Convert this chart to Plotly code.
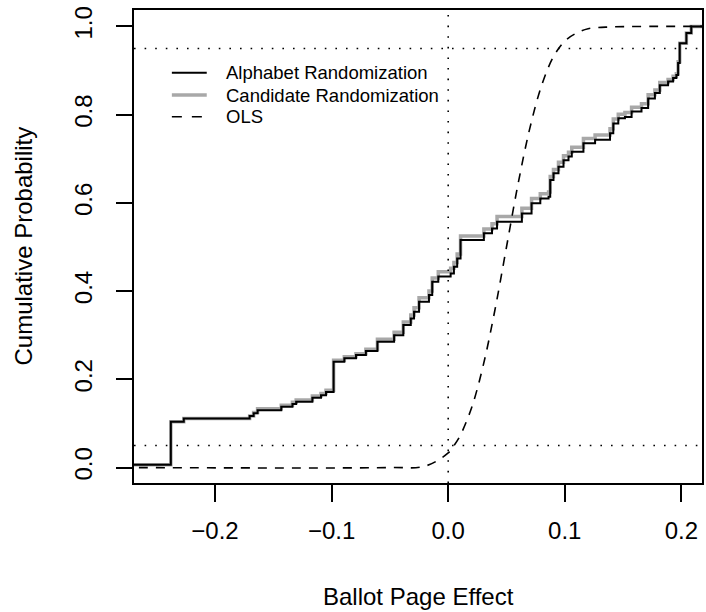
import plotly.graph_objects as go

# ---- data ----
alpha_x = [-0.28, -0.2379, -0.2268, -0.1703, -0.1669, -0.1635, -0.1432, -0.1336, -0.1304,
           -0.1165, -0.1091, -0.1048, -0.0983, -0.0891, -0.0791, -0.0706, -0.0607, -0.0464,
           -0.0385, -0.0321, -0.0293, -0.0250, -0.0165, -0.0137, -0.0085, 0.0021, 0.0049,
           0.0077, 0.0106, 0.0306, 0.0376, 0.0419, 0.0632, 0.0715, 0.0790, 0.0861, 0.0875,
           0.0903, 0.0946, 0.0989, 0.1032, 0.1060, 0.1160, 0.1260, 0.1388, 0.1416, 0.1459,
           0.1516, 0.1573, 0.1658, 0.1715, 0.1773, 0.1815, 0.1886, 0.1929, 0.1957, 0.1972,
           0.1986, 0.2043, 0.2085, 0.23]
alpha_y = [0.006, 0.104, 0.111, 0.117, 0.123, 0.130, 0.138, 0.144, 0.149,
           0.158, 0.164, 0.171, 0.240, 0.248, 0.255, 0.264, 0.285, 0.300,
           0.323, 0.338, 0.353, 0.376, 0.391, 0.421, 0.433, 0.440, 0.455,
           0.474, 0.516, 0.531, 0.542, 0.557, 0.576, 0.599, 0.610, 0.614, 0.652,
           0.667, 0.682, 0.697, 0.705, 0.716, 0.735, 0.743, 0.758, 0.780, 0.792,
           0.795, 0.807, 0.815, 0.837, 0.849, 0.867, 0.875, 0.883, 0.890, 0.917,
           0.962, 0.985, 1.000, 1.000]

cand_x = alpha_x
cand_y = [0.006, 0.104, 0.111, 0.117, 0.125, 0.133, 0.141, 0.148, 0.153,
          0.162, 0.168, 0.175, 0.243, 0.251, 0.258, 0.268, 0.291, 0.307,
          0.330, 0.346, 0.362, 0.385, 0.400, 0.430, 0.444, 0.452, 0.465,
          0.484, 0.525, 0.541, 0.553, 0.569, 0.588, 0.610, 0.621, 0.625, 0.660,
          0.676, 0.692, 0.707, 0.715, 0.726, 0.746, 0.754, 0.768, 0.790, 0.801,
          0.805, 0.817, 0.825, 0.845, 0.856, 0.873, 0.880, 0.887, 0.893, 0.920,
          0.962, 0.985, 1.000, 1.000]

ols_x = [-0.28, -0.05, -0.02, 0.0, 0.005, 0.01, 0.02, 0.03, 0.04, 0.05, 0.06, 0.07,
         0.08, 0.09, 0.10, 0.11, 0.12, 0.14, 0.23]
ols_y = [0.0, 0.0, 0.003, 0.033, 0.05, 0.071, 0.135, 0.231, 0.356, 0.5, 0.644, 0.769,
         0.865, 0.93, 0.967, 0.985, 0.995, 0.999, 1.0]

x_ticks = [-0.2, -0.1, 0.0, 0.1, 0.2]
x_labels = ["\u22120.2", "\u22120.1", "0.0", "0.1", "0.2"]
y_ticks = [0.0, 0.2, 0.4, 0.6, 0.8, 1.0]
y_labels = ["0.0", "0.2", "0.4", "0.6", "0.8", "1.0"]
ref_levels = [0.05, 0.95]

legend_names = ["Alphabet Randomization", "Candidate Randomization", "OLS"]

FONT = "Liberation Sans"

BLACK_LINE = dict(color="black", width=2)
GRAY_LINE = dict(color="#a8a8a8", width=3.5)
DASH_LINE = dict(color="black", width=1.6, dash="9px,8px")

fig = go.Figure()
fig.add_trace(go.Scatter(x=cand_x, y=cand_y, mode="lines", line_shape="hv",
                         line=GRAY_LINE, name=legend_names[1], showlegend=False))
fig.add_trace(go.Scatter(x=alpha_x, y=alpha_y, mode="lines", line_shape="hv",
                         line=BLACK_LINE, name=legend_names[0], showlegend=False))
fig.add_trace(go.Scatter(x=ols_x, y=ols_y, mode="lines", line_shape="spline",
                         line=DASH_LINE, name=legend_names[2], showlegend=False))

dot = dict(color="black", width=1.6, dash="1.6px,9px")
for lv in ref_levels:
    fig.add_shape(type="line", xref="paper", x0=0, x1=1, yref="y", y0=lv, y1=lv, line=dot)
fig.add_shape(type="line", xref="x", x0=0, x1=0, yref="paper", y0=0, y1=1, line=dot)

# manual legend (no box), placed like R's legend(bty="n")
PLOT_L, PLOT_W, PLOT_B, PLOT_H = 134, 570, 483, 473
def px_x(p):
    return (p - PLOT_L) / PLOT_W
def px_y(p):
    return (PLOT_B - p) / PLOT_H

leg_rows = [72.7, 95.0, 116.7]
leg_styles = [BLACK_LINE, dict(color="#a8a8a8", width=3.5), dict(color="black", width=1.6, dash="10px,10px")]
for name, row, st in zip(legend_names, leg_rows, leg_styles):
    fig.add_shape(type="line", xref="paper", yref="paper",
                  x0=px_x(172), x1=px_x(207), y0=px_y(row), y1=px_y(row), line=st)
    fig.add_annotation(text=name, xref="paper", yref="paper", x=px_x(224), y=px_y(row),
                       xanchor="left", yanchor="middle", showarrow=False,
                       font=dict(family=FONT, size=18.5, color="black"))

axis_common = dict(showgrid=False, zeroline=False, showline=True, linecolor="black",
                   linewidth=2, mirror=True, ticks="outside", tickcolor="black",
                   tickwidth=1.8, tickfont=dict(family=FONT, size=24, color="black"))

fig.update_xaxes(range=[-0.2695, 0.2177], tickvals=x_ticks, ticktext=x_labels,
                 ticklen=17, ticklabelstandoff=8, **axis_common)
fig.update_yaxes(range=[-0.0351, 1.0374], tickvals=y_ticks, ticktext=y_labels,
                 ticklen=16, tickangle=-90, ticklabelstandoff=14, **axis_common)

fig.add_annotation(text="Ballot Page Effect", xref="paper", yref="paper", x=0.5, y=0,
                   xanchor="center", yanchor="middle", yshift=-113, showarrow=False,
                   font=dict(family=FONT, size=24, color="black"))
fig.add_annotation(text="Cumulative Probability", xref="paper", yref="paper", x=0, y=0.5,
                   xanchor="center", yanchor="middle", xshift=-111, textangle=-90,
                   showarrow=False, font=dict(family=FONT, size=24, color="black"))

fig.update_layout(
    width=706, height=612,
    margin=dict(l=134, r=2, t=10, b=129),
    plot_bgcolor="white", paper_bgcolor="white",
    showlegend=False,
)

fig.write_html("out.html")
